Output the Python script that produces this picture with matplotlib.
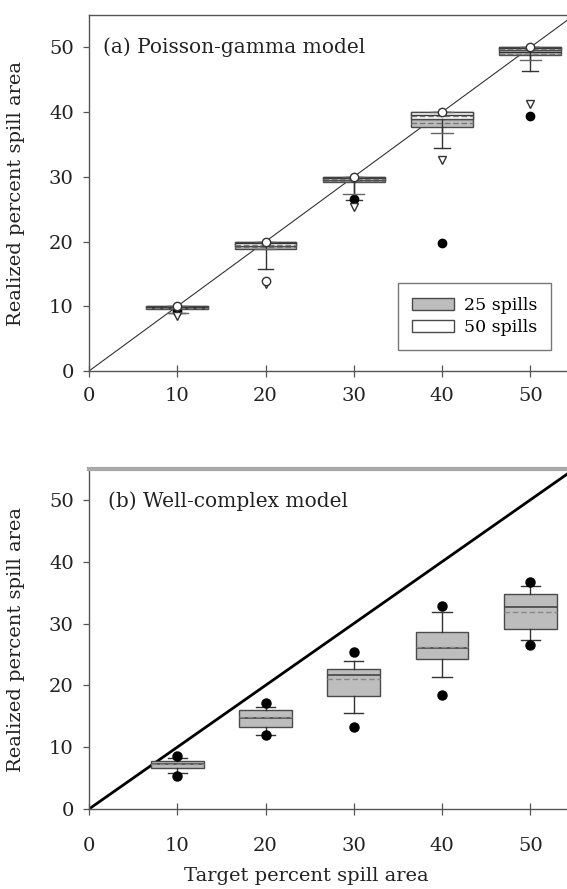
import matplotlib
matplotlib.use("Agg")
import matplotlib.pyplot as plt
from matplotlib.patches import Patch
import numpy as np

plt.rcParams['font.family'] = ['DejaVu Serif']

# ---------------- data ----------------
targets = [10, 20, 30, 40, 50]
xticks = [0, 10, 20, 30, 40, 50]
yticks = [0, 10, 20, 30, 40, 50]

# Panel (a) Poisson-gamma model: 25 spills (grey)
a25_q1 = [9.6, 18.9, 29.2, 37.7, 48.8]
a25_med = [9.8, 19.4, 29.6, 39.0, 49.3]
a25_q3 = [10.0, 20.0, 30.0, 40.0, 50.0]
a25_mean = [9.7, 19.1, 29.4, 38.3, 49.0]
a25_whislo = [9.0, 15.8, 26.4, 34.5, 46.3]
a25_whishi = [10.0, 20.0, 30.0, 40.0, 50.0]
a25_fliers = [[9.3], [], [26.6], [19.8], [39.4]]

# Panel (a): 50 spills (white)
a50_q1 = [9.7, 19.3, 29.5, 39.0, 49.6]
a50_med = [9.85, 19.7, 29.8, 39.6, 49.9]
a50_q3 = [10.0, 20.0, 30.0, 40.0, 50.0]
a50_mean = [9.8, 19.5, 29.7, 39.4, 49.7]
a50_whislo = [8.9, 18.9, 27.4, 36.8, 48.0]
a50_whishi = [10.0, 20.0, 30.0, 40.0, 50.0]
a50_fliers = [[8.5], [13.5], [25.3], [32.6], [41.3]]

# open circles in panel (a)
a_open_x = [10, 20, 30, 40, 50, 20]
a_open_y = [10.0, 20.0, 30.0, 40.0, 50.0, 13.9]

# Panel (b) Well-complex model
b_q1 = [6.7, 13.2, 18.3, 24.2, 29.1]
b_med = [7.25, 14.8, 21.7, 26.1, 32.6]
b_q3 = [7.8, 16.0, 22.7, 28.65, 34.7]
b_mean = [7.3, 14.9, 21.0, 26.2, 31.9]
b_whislo = [5.8, 11.9, 15.5, 21.3, 27.4]
b_whishi = [8.2, 16.5, 24.0, 31.9, 36.1]
b_fliers = [[5.4, 8.65], [11.9, 17.1], [13.2, 25.4], [18.5, 32.8], [26.6, 36.7]]


def make_stats(q1, med, q3, mean, wlo, whi, fl):
    return [dict(q1=a, med=b, q3=c, mean=d, whislo=e, whishi=f, fliers=g)
            for a, b, c, d, e, f, g in zip(q1, med, q3, mean, wlo, whi, fl)]


W, H = 567, 889
fig = plt.figure(figsize=(W / 100, H / 100), dpi=100)

xlim = (0, 55)
axw = 485.4 / W
left = 89 / W
axA = fig.add_axes([left, 1 - 371 / H, axw, 356 / H])
axB = fig.add_axes([left, 1 - 809 / H, axw, 340 / H])

grey = '#bdbdbd'
edge = '#4a4a4a'

for ax in (axA, axB):
    ax.set_xlim(*xlim)
    ax.set_ylim(0, 55)
    ax.set_xticks(xticks)
    ax.set_yticks(yticks)
    ax.spines['right'].set_visible(False)
    for s in ('left', 'bottom'):
        ax.spines[s].set_color('#555555')
        ax.spines[s].set_linewidth(1.0)
    ax.tick_params(axis='y', direction='out', length=4, width=0.9, color='#555555',
                   labelsize=14, pad=7, labelcolor='#222222')
    ax.tick_params(axis='x', direction='inout', length=9, width=0.9, color='#555555',
                   labelsize=14, labelcolor='#222222')
    ax.set_ylabel('Realized percent spill area', fontsize=14, color='#222222')
    ax.yaxis.set_label_coords(-0.132, 0.5)

axA.tick_params(axis='x', pad=7)
axB.tick_params(axis='x', pad=16)
axA.spines['top'].set_color('#555555')
axA.spines['top'].set_linewidth(1.0)
axB.spines['top'].set_color('#a8a8a8')
axB.spines['top'].set_linewidth(3.0)

# ---- panel (a)
axA.plot([0, 60], [0, 60], color='#333333', lw=0.8, zorder=1)
mean_a = dict(color='#777777', linestyle=(0, (4, 2)), linewidth=1.0)
axA.bxp(make_stats(a25_q1, a25_med, a25_q3, a25_mean, a25_whislo, a25_whishi, a25_fliers),
        positions=targets, widths=7, patch_artist=True, showmeans=True, meanline=True,
        boxprops=dict(facecolor=grey, edgecolor=edge, linewidth=1.0),
        medianprops=dict(color='#333333', linewidth=1.0),
        meanprops=mean_a,
        whiskerprops=dict(color='#333333', linewidth=1.0),
        capprops=dict(color='#333333', linewidth=1.0), capwidths=1.8,
        flierprops=dict(marker='o', markerfacecolor='black', markeredgecolor='black',
                        markersize=6), manage_ticks=False, zorder=2)
axA.bxp(make_stats(a50_q1, a50_med, a50_q3, a50_mean, a50_whislo, a50_whishi, a50_fliers),
        positions=targets, widths=7, patch_artist=True, showmeans=True, meanline=True,
        boxprops=dict(facecolor='white', edgecolor=edge, linewidth=1.0),
        medianprops=dict(color='#333333', linewidth=1.0),
        meanprops=mean_a,
        whiskerprops=dict(color='#333333', linewidth=1.0),
        capprops=dict(color='#666666', linewidth=1.0), capwidths=2.4,
        flierprops=dict(marker='v', markerfacecolor='white', markeredgecolor='#333333',
                        markersize=6), manage_ticks=False, zorder=3)
axA.plot(a_open_x, a_open_y, linestyle='none', marker='o', markersize=6,
         markerfacecolor='white', markeredgecolor='#333333', markeredgewidth=1.0, zorder=4)
axA.text(0.028, 0.91, '(a) Poisson-gamma model', transform=axA.transAxes,
         fontsize=14.5, color='#222222', va='center', ha='left')
leg = axA.legend(handles=[Patch(facecolor=grey, edgecolor=edge, label='25 spills'),
                          Patch(facecolor='white', edgecolor=edge, label='50 spills')],
                 loc='lower left', bbox_to_anchor=(0.637, 0.059), borderaxespad=0,
                 fontsize=12.5, fancybox=False, edgecolor='#777777', framealpha=1,
                 handlelength=2.4, handleheight=0.7, borderpad=0.8, labelspacing=0.3,
                 handletextpad=0.6)
leg.get_frame().set_linewidth(1.0)

# ---- panel (b)
axB.plot([0, 60], [0, 60], color='black', lw=2.0, zorder=1)
axB.bxp(make_stats(b_q1, b_med, b_q3, b_mean, b_whislo, b_whishi, b_fliers),
        positions=targets, widths=6, patch_artist=True, showmeans=True, meanline=True,
        boxprops=dict(facecolor=grey, edgecolor=edge, linewidth=1.0),
        medianprops=dict(color='#444444', linewidth=1.2),
        meanprops=dict(color='#888888', linestyle=(0, (4, 2)), linewidth=1.0),
        whiskerprops=dict(color='#333333', linewidth=1.0),
        capprops=dict(color='#333333', linewidth=1.0), capwidths=2.2,
        flierprops=dict(marker='o', markerfacecolor='black', markeredgecolor='black',
                        markersize=6.5), manage_ticks=False, zorder=2)
axB.text(0.04, 0.904, '(b) Well-complex model', transform=axB.transAxes,
         fontsize=14.5, color='#222222', va='center', ha='left')
axB.set_xlabel('Target percent spill area', fontsize=14, color='#222222')
axB.xaxis.set_label_coords(0.447, -0.17)

fig.savefig('out.png', dpi=100)
